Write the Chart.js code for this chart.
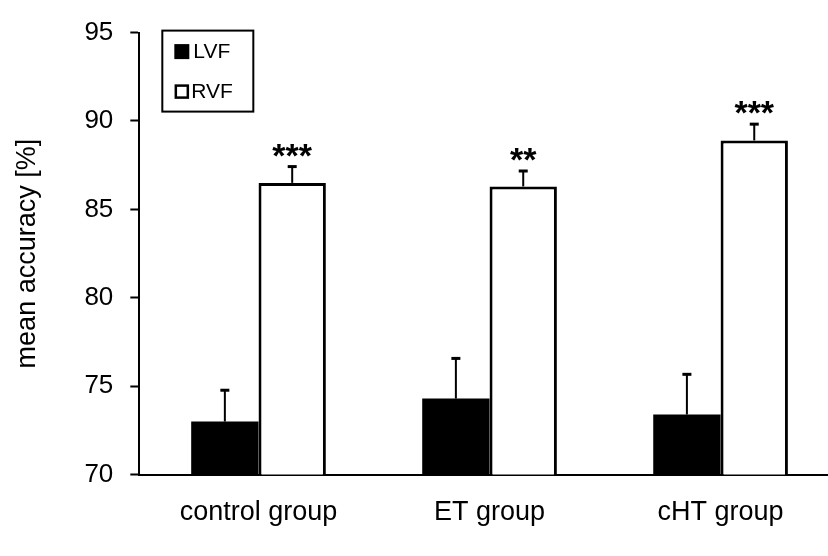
<!DOCTYPE html>
<html><head><meta charset="utf-8">
<script src="https://cdn.jsdelivr.net/npm/chart.js@4.4.1/dist/chart.umd.min.js"></script>
<style>html,body{margin:0;padding:0;background:#fff;} #wrap{width:828px;height:556px;}</style>
</head><body><div id="wrap"><canvas id="c" width="828" height="556"></canvas></div>
<script>
const categories = ['control group', 'ET group', 'cHT group'];
const seriesNames = ['LVF', 'RVF'];
const lvfMeans = [73.0, 74.3, 73.4];
const lvfErrTop = [74.8, 76.6, 75.7];
const rvfMeans = [86.5, 86.3, 88.9];
const rvfErrTop = [87.45, 87.2, 89.85];
const significance = ['***', '**', '***'];
const yTicks = [70, 75, 80, 85, 90, 95];

const FONT = "'Liberation Sans', Arial, Helvetica, sans-serif";

const errorBarsPlugin = {
  id: 'errorBars',
  afterDatasetsDraw(chart) {
    const ctx = chart.ctx;
    const ys = chart.scales.y;
    const errs = [lvfErrTop, rvfErrTop];
    ctx.save();
    ctx.strokeStyle = '#000';
    errs.forEach((arr, d) => {
      const meta = chart.getDatasetMeta(d);
      meta.data.forEach((bar, i) => {
        const yt = ys.getPixelForValue(arr[i]);
        ctx.lineWidth = 2;
        ctx.beginPath();
        ctx.moveTo(bar.x, bar.y);
        ctx.lineTo(bar.x, yt);
        ctx.stroke();
        ctx.lineWidth = 3;
        ctx.beginPath();
        ctx.moveTo(bar.x - 4.5, yt + 0.5);
        ctx.lineTo(bar.x + 4.5, yt + 0.5);
        ctx.stroke();
      });
    });
    // significance stars above RVF
    const meta = chart.getDatasetMeta(1);
    ctx.fillStyle = '#000';
    ctx.font = 'bold 34px ' + FONT;
    ctx.textAlign = 'center';
    ctx.textBaseline = 'alphabetic';
    meta.data.forEach((bar, i) => {
      const s = significance[i];
      const m = ctx.measureText(s);
      const cy = ys.getPixelForValue(rvfErrTop[i]) - 16;
      const base = cy + (m.actualBoundingBoxAscent - m.actualBoundingBoxDescent) / 2;
      ctx.fillText(s, bar.x, base);
    });
    ctx.restore();
  },
  afterDraw(chart) {
    const ctx = chart.ctx;
    const a = chart.chartArea;
    const bx = a.left + 23, by = a.top - 2, bw = 91, bh = 81;
    ctx.save();
    ctx.strokeStyle = '#000';
    ctx.lineWidth = 2;
    ctx.fillStyle = '#fff';
    ctx.fillRect(bx, by, bw, bh);
    ctx.strokeRect(bx, by, bw, bh);
    ctx.font = '21px ' + FONT;
    ctx.textAlign = 'left';
    ctx.textBaseline = 'middle';
    chart.data.datasets.forEach((ds, d) => {
      const cy = by + 21 + d * 40;
      if (d === 0) {
        ctx.fillStyle = ds.backgroundColor;
        ctx.fillRect(bx + 12, cy - 7.5, 15, 15);
      } else {
        ctx.lineWidth = 2.5;
        ctx.strokeRect(bx + 13.5, cy - 6, 12, 12);
      }
      ctx.fillStyle = '#000';
      ctx.fillText(ds.label, bx + (d === 0 ? 31 : 29), cy + 1);
    });
    ctx.restore();
  }
};

new Chart(document.getElementById('c'), {
  type: 'bar',
  data: {
    datasets: [
      {
        label: seriesNames[0],
        data: lvfMeans.map((v, i) => ({ x: i, y: v })),
        backgroundColor: '#000',
        borderColor: '#000',
        borderWidth: 0
      },
      {
        label: seriesNames[1],
        data: rvfMeans.map((v, i) => ({ x: i, y: v })),
        backgroundColor: '#fff',
        borderColor: '#000',
        borderWidth: 3
      }
    ]
  },
  options: {
    responsive: false,
    animation: false,
    devicePixelRatio: 1,
    categoryPercentage: 0.583,
    barPercentage: 1.0,
    layout: { padding: { top: 21, bottom: 5, left: 0, right: 0 } },
    plugins: { legend: { display: false }, tooltip: { enabled: false } },
    scales: {
      x: {
        type: 'linear',
        offset: false,
        min: -0.516,
        max: 2.465,
        grid: { display: false, drawTicks: false },
        border: { display: true, color: '#000', width: 2 },
        afterBuildTicks: s => { s.ticks = categories.map((c, i) => ({ value: i })); },
        ticks: {
          callback: v => categories[v],
          font: { family: FONT, size: 27 },
          color: '#000',
          padding: 22,
          maxRotation: 0,
          autoSkip: false
        }
      },
      y: {
        min: 70,
        max: 95,
        afterBuildTicks: s => { s.ticks = yTicks.map(v => ({ value: v })); },
        grid: { drawOnChartArea: false, drawTicks: true, tickLength: 9, tickColor: '#000', tickWidth: 2, color: '#000' },
        border: { display: true, color: '#000', width: 2 },
        ticks: { font: { family: FONT, size: 26 }, color: '#000', padding: 17 },
        title: {
          display: true,
          text: 'mean accuracy [%]',
          font: { family: FONT, size: 27 },
          color: '#000',
          padding: { top: 11, bottom: 24 }
        }
      }
    }
  },
  plugins: [errorBarsPlugin]
});
</script>
</body></html>
